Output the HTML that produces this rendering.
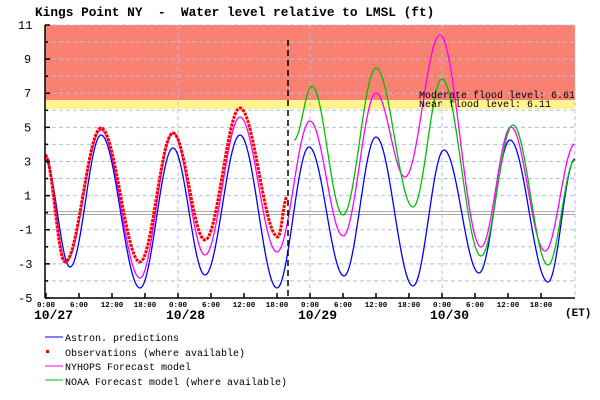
<!DOCTYPE html>
<html><head><meta charset="utf-8"><style>
html,body{margin:0;padding:0;background:#fff;width:600px;height:400px;overflow:hidden}
svg{display:block}
text{font-family:"Liberation Mono",monospace;white-space:pre}
</style></head><body>
<svg id="s" width="600" height="400" xmlns="http://www.w3.org/2000/svg">
<text x="35" y="16" font-size="12.8" font-weight="bold" xml:space="preserve">Kings Point NY  -  Water level relative to LMSL (ft)</text>
<rect x="45" y="25" width="530" height="75" fill="#fa8072"/>
<rect x="45" y="100" width="530" height="9" fill="#fff48f"/>
<g id="grid" stroke="#b0c0e0" stroke-dasharray="4,3" stroke-width="1"></g>
<line x1="45" y1="211.5" x2="575" y2="211.5" stroke="#aaa" stroke-width="1"/>
<line x1="45" y1="214.5" x2="575" y2="214.5" stroke="#aaa" stroke-width="1"/>
<g id="curves" fill="none"></g>
<line x1="288" y1="40" x2="288" y2="298" stroke="#000" stroke-width="1.5" stroke-dasharray="6,4"/>
<text x="419" y="98" font-size="10">Moderate flood level: 6.61</text>
<text x="419" y="107" font-size="10">Near flood level: 6.11</text>
<g id="axes" stroke="#000" stroke-width="1.5"></g>
<g id="labels" font-size="11"></g>
<text x="565" y="316" font-size="11" font-weight="bold">(ET)</text>
<g font-size="10">
<line x1="45" y1="337" x2="63" y2="337" stroke="#0000ff"/>
<text x="65" y="341">Astron. predictions</text>
<rect x="46" y="350" width="3" height="3" fill="#f00"/>
<text x="65" y="356">Observations (where available)</text>
<line x1="45" y1="366" x2="63" y2="366" stroke="#ff00ff"/>
<text x="65" y="370">NYHOPS Forecast model</text>
<line x1="45" y1="380" x2="63" y2="380" stroke="#00c000"/>
<text x="65" y="385">NOAA Forecast model (where available)</text>
</g>
</svg>
<script>
const NS="http://www.w3.org/2000/svg";
function el(p,t,a,txt){const e=document.createElementNS(NS,t);for(const k in a)e.setAttribute(k,a[k]);if(txt)e.textContent=txt;document.getElementById(p).appendChild(e);return e;}
const Y=v=>25+(11-v)*17.06;
for(let v=-4;v<=11;v++){if(v===0)continue;el("grid","line",{x1:45,x2:575,y1:Y(v),y2:Y(v)});}
[178,310,442,575].forEach(x=>el("grid","line",{x1:x,x2:x,y1:25,y2:298}));
el("axes","line",{x1:45,y1:25,x2:45,y2:298});
el("axes","line",{x1:45,y1:298,x2:575,y2:298});
for(let v=-5;v<=11;v+=2){el("axes","line",{x1:45,x2:50,y1:Y(v),y2:Y(v)});el("labels","text",{x:v<0?18:(v>9?18:24),y:Y(v)+4,"font-size":12},String(v));}
for(let v=-4;v<=10;v+=2){el("axes","line",{x1:45,x2:48,y1:Y(v),y2:Y(v)});}
const hrs=["0:00","6:00","12:00","18:00"];
for(let i=0;i<16;i++){const x=46+i*33;el("axes","line",{x1:x,x2:x,y1:293,y2:298});const t=hrs[i%4];el("labels","text",{x:x-t.length*2.25,y:307,"font-size":7.5,"font-weight":"bold"},t);}
["10/27","10/28","10/29","10/30"].forEach((d,i)=>el("labels","text",{x:34+i*132,y:319,"font-size":13,"font-weight":"bold"},d));
function curve(pts){let s=[];for(let i=0;i<pts.length-1;i++){const[a,b]=[pts[i],pts[i+1]];for(let x=a[0];x<b[0];x+=1){const t=(x-a[0])/(b[0]-a[0]);const y=a[1]+(b[1]-a[1])*(1-Math.cos(Math.PI*t))/2;s.push(x.toFixed(1)+","+y.toFixed(1));}}const l=pts[pts.length-1];s.push(l[0]+","+l[1]);return s.join(" ");}
const blue=[[45,160],[70,267],[101,135],[140,288],[173,148],[205,275],[240,135],[277,288],[309,147],[344,276],[376,137],[413,286],[444,150],[479,273],[510,140],[548,282],[575,159]];
const mag=[[45,155],[66,262],[101,130],[140,278],[173,133],[205,255],[240,117],[277,252],[310,121],[343,236],[376,93],[405,177],[440,35],[481,247],[511,127],[545,251],[575,144]];
const green=[[294,140],[312,86],[343,215],[376,68],[413,207],[442,79],[481,256],[513,125],[548,265],[575,160]];
const red=[[45,155],[65,262],[101,128],[140,262],[173,133],[205,240],[240,108],[278,237],[287,197]];
el("curves","polyline",{points:curve(blue),stroke:"#0000ff","stroke-width":1.3});
el("curves","polyline",{points:curve(mag),stroke:"#ff00ff","stroke-width":1.3});
el("curves","polyline",{points:curve(green),stroke:"#00c000","stroke-width":1.3});
el("curves","polyline",{points:curve(red),stroke:"#ff0000","stroke-width":3,"stroke-dasharray":"3,1"});
</script>
</body></html>
